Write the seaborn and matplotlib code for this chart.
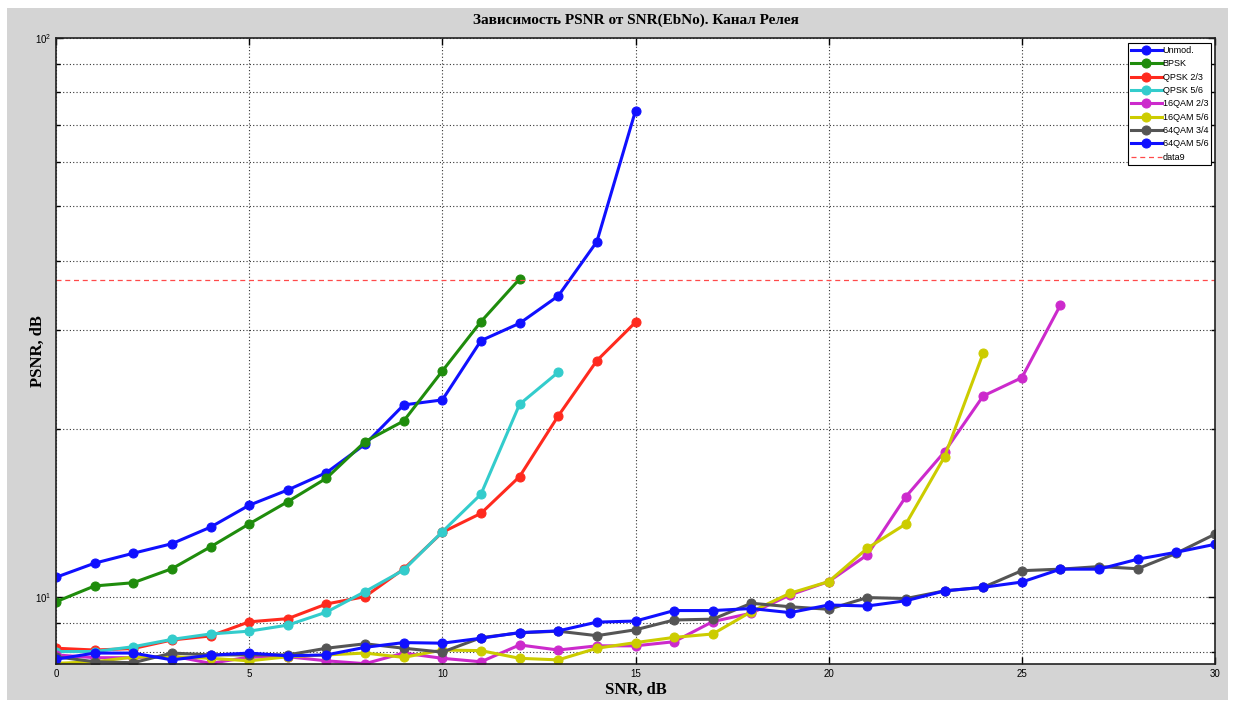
import matplotlib
matplotlib.use("Agg")
import matplotlib.pyplot as plt
from matplotlib.patches import Rectangle
from matplotlib.ticker import LogLocator, LogFormatterSciNotation, NullFormatter
import seaborn as sns
import pandas as pd

## values (SNR in dB, PSNR in dB)
snr_unmod = list(range(16))
psnr_unmod = [10.86, 11.51, 11.99, 12.47, 13.35, 14.61, 15.56, 16.71, 18.78, 22.08,
              22.54, 28.77, 30.90, 34.58, 43.24, 74.13]

snr_bpsk = list(range(13))
psnr_bpsk = [9.82, 10.48, 10.62, 11.25, 12.31, 13.53, 14.83, 16.33, 18.98, 20.67,
             25.39, 31.11, 37.09]

snr_qpsk23 = list(range(16))
psnr_qpsk23 = [8.11, 8.05, 8.10, 8.39, 8.53, 9.04, 9.16, 9.73, 10.03, 11.24,
               13.07, 14.13, 16.44, 21.10, 26.50, 31.03]

snr_qpsk56 = list(range(14))
psnr_qpsk56 = [8.00, 8.00, 8.16, 8.41, 8.60, 8.70, 8.92, 9.41, 10.24, 11.19,
               13.10, 15.29, 22.14, 25.26]

snr_16qam23 = list(range(27))
psnr_16qam23 = [7.89, 7.80, 7.80, 7.86, 7.62, 7.82, 7.83, 7.70, 7.61, 7.95,
                7.78, 7.67, 8.22, 8.05, 8.19, 8.19, 8.33, 9.05, 9.37, 10.10,
                10.67, 11.91, 15.14, 18.21, 22.91, 24.70, 33.32]

snr_16qam56 = list(range(25))
psnr_16qam56 = [7.62, 7.67, 7.82, 7.83, 7.78, 7.70, 7.83, 7.89, 7.95, 7.81,
                8.05, 8.03, 7.78, 7.73, 8.11, 8.30, 8.48, 8.60, 9.43, 10.17,
                10.67, 12.24, 13.53, 17.84, 27.32]

snr_64qam34 = list(range(31))
psnr_64qam34 = [7.83, 7.67, 7.64, 7.95, 7.89, 7.89, 7.89, 8.11, 8.26, 8.11,
                7.98, 8.47, 8.64, 8.70, 8.54, 8.75, 9.11, 9.14, 9.76, 9.62,
                9.52, 9.99, 9.95, 10.27, 10.42, 11.16, 11.23, 11.35, 11.25, 11.99,
                12.97]

snr_64qam56 = list(range(31))
psnr_64qam56 = [7.75, 7.95, 7.95, 7.73, 7.88, 7.95, 7.86, 7.89, 8.14, 8.30,
                8.28, 8.45, 8.65, 8.71, 9.03, 9.07, 9.47, 9.47, 9.55, 9.39,
                9.69, 9.65, 9.86, 10.27, 10.42, 10.65, 11.23, 11.23, 11.70, 12.04,
                12.44]

threshold = 37

series = [
    ("Unmod.", snr_unmod, psnr_unmod, "#1010ff"),
    ("BPSK", snr_bpsk, psnr_bpsk, "#1f8c0c"),
    ("QPSK 2/3", snr_qpsk23, psnr_qpsk23, "#ff2a1e"),
    ("QPSK 5/6", snr_qpsk56, psnr_qpsk56, "#33cccc"),
    ("16QAM 2/3", snr_16qam23, psnr_16qam23, "#cc2acc"),
    ("16QAM 5/6", snr_16qam56, psnr_16qam56, "#cccc00"),
    ("64QAM 3/4", snr_64qam34, psnr_64qam34, "#555555"),
    ("64QAM 5/6", snr_64qam56, psnr_64qam56, "#1010ff"),
]

fig = plt.figure(figsize=(12.35, 7.04), dpi=100, facecolor="white")
## gray MATLAB-like window background
fig.patches.append(Rectangle((7 / 1235, 4 / 704), 1221 / 1235, 692 / 704,
                             transform=fig.transFigure, facecolor="#d4d4d4",
                             edgecolor="none", zorder=-10))
ax = fig.add_axes([56 / 1235, 40 / 704, 1159 / 1235, 626 / 704])
ax.set_facecolor("white")

for name, xs, ys, col in series:
    df = pd.DataFrame({"snr": xs, "psnr": ys})
    sns.lineplot(data=df, x="snr", y="psnr", ax=ax, color=col, marker="o",
                 markersize=6.5, markeredgecolor=col, linewidth=2.2, label=name,
                 clip_on=True)

ax.axhline(threshold, color="#ff4a4a", linestyle=(0, (4, 3)), linewidth=0.9, label="data9")

ax.set_yscale("log")
ax.set_xlim(0, 30)
ax.set_ylim(7.6, 100)
ax.set_xticks(range(0, 31, 5))
ax.yaxis.set_major_locator(LogLocator(base=10, numticks=5))
ax.yaxis.set_major_formatter(LogFormatterSciNotation())
ax.yaxis.set_minor_locator(LogLocator(base=10, subs=range(2, 10), numticks=20))
ax.yaxis.set_minor_formatter(NullFormatter())

ax.grid(True, which="major", axis="x", color="#333333", linestyle=(0, (1, 2)), linewidth=0.8)
ax.grid(True, which="both", axis="y", color="#333333", linestyle=(0, (1, 2)), linewidth=0.8)

ax.tick_params(which="both", direction="in", top=True, right=True, labelsize=7,
               colors="black", width=1)
ax.tick_params(which="major", length=5)
ax.tick_params(which="minor", length=3)
for lab in ax.get_xticklabels() + ax.get_yticklabels():
    lab.set_fontfamily("Liberation Sans")
for sp in ax.spines.values():
    sp.set_linewidth(1.2)
    sp.set_color("#222222")

ax.set_title("Зависимость PSNR от SNR(EbNo). Канал Релея", fontfamily="Liberation Serif",
             fontweight="bold", fontsize=11, pad=10)
ax.set_xlabel("SNR, dB", fontfamily="Liberation Serif", fontweight="bold", fontsize=12, labelpad=2)
ax.set_ylabel("PSNR, dB", fontfamily="Liberation Serif", fontweight="bold", fontsize=12, labelpad=-8)

leg = ax.legend(loc="upper right", bbox_to_anchor=(0.9985, 0.995), fontsize=6.5,
                frameon=True, fancybox=False, edgecolor="black", framealpha=1,
                handlelength=3.4, handletextpad=0.1, labelspacing=0.48,
                borderpad=0.35, borderaxespad=0.2, prop={"family": "Liberation Sans", "size": 6.5})
leg.get_frame().set_linewidth(0.8)

fig.savefig("out.png", dpi=100, facecolor=fig.get_facecolor())
